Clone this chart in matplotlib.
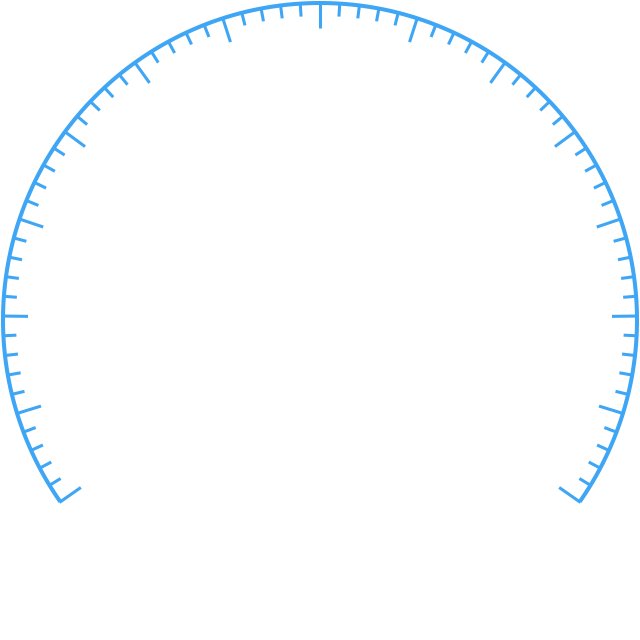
import numpy as np
import matplotlib
matplotlib.use("Agg")
import matplotlib.pyplot as plt

# gauge settings
start_angle = 215
end_angle = -35
split_number = 14
minor_per_split = 5
color = "#3fa6f5"

cx, cy = 320, 320
radius = 317

fig = plt.figure(figsize=(6.4, 6.4), dpi=100)
ax = fig.add_axes([0, 0, 1, 1])
ax.set_xlim(0, 640)
ax.set_ylim(640, 0)
ax.axis("off")

# the arc
t = np.radians(np.linspace(start_angle, end_angle, 400))
ax.plot(cx + radius * np.cos(t), cy - radius * np.sin(t),
        color=color, lw=2.9, solid_capstyle="butt")

# ticks
n_ticks = split_number * minor_per_split
for i in range(n_ticks + 1):
    a = np.radians(start_angle + (end_angle - start_angle) * i / n_ticks)
    if i % minor_per_split == 0:
        r_in = radius - 25
    else:
        r_in = radius - 13
    r_out = radius + 1
    ax.plot([cx + r_out * np.cos(a), cx + r_in * np.cos(a)],
            [cy - r_out * np.sin(a), cy - r_in * np.sin(a)],
            color=color, lw=2.2, solid_capstyle="butt")

fig.savefig("out.png", dpi=100)
